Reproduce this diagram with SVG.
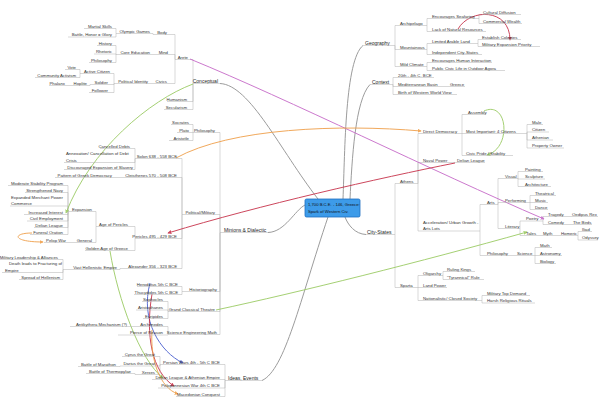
<svg xmlns="http://www.w3.org/2000/svg" width="600" height="400" viewBox="0 0 600 400">
<style>
.t{font-family:"Liberation Sans",Arial,sans-serif;font-size:4.3px;fill:#333}
.b{font-size:5px;fill:#222}
.e{text-anchor:end}
.u{stroke:#b0b0b0;stroke-width:.5;fill:none}
.c{stroke:#b0b0b0;stroke-width:.5;fill:none}
.m{stroke:#9c9c9c;stroke-width:1;fill:none}
.x{fill:none;stroke-width:1;opacity:.9}
.ct{font-family:"Liberation Sans",Arial,sans-serif;font-size:4.2px;fill:#111}
</style>
<defs>
<marker id="ap" viewBox="0 0 6 6" refX="5" refY="3" markerWidth="4" markerHeight="4" orient="auto"><path d="M0,0L6,3L0,6z" fill="#c76bc9"/></marker>
<marker id="ar" viewBox="0 0 6 6" refX="5" refY="3" markerWidth="4" markerHeight="4" orient="auto"><path d="M0,0L6,3L0,6z" fill="#c8344c"/></marker>
<marker id="ao" viewBox="0 0 6 6" refX="5" refY="3" markerWidth="4" markerHeight="4" orient="auto"><path d="M0,0L6,3L0,6z" fill="#f0a04b"/></marker>
<marker id="ag" viewBox="0 0 6 6" refX="5" refY="3" markerWidth="4" markerHeight="4" orient="auto"><path d="M0,0L6,3L0,6z" fill="#9ccc65"/></marker>
<marker id="ab" viewBox="0 0 6 6" refX="5" refY="3" markerWidth="4" markerHeight="4" orient="auto"><path d="M0,0L6,3L0,6z" fill="#4a5fd0"/></marker>
</defs>
<rect width="600" height="400" fill="#fff"/>

<g id="connectors">
<path class="m" d="M363,45.5C345,60 345,150 343,199"/>
<path class="m" d="M370,84.5C355,100 352,160 350,199"/>
<path class="m" d="M220,83.5C250,85 280,150 318,199"/>
<path class="m" d="M268,232.5C285,232 295,210 305,205"/>
<path class="m" d="M366,234.5C355,234 348,225 345,217"/>
<path class="m" d="M262,380.5C285,370 300,300 328,217"/>
<path class="c" d="M395,45.5V25.5H399M395,45.5V49.5H399M395,45.5V66.5H399"/>
<path class="c" d="M427,25.5V18.5H431M427,25.5V31.5H431"/>
<path class="c" d="M427,49.5V43.5H431M427,49.5V54.5H431"/>
<path class="c" d="M427,66.5V62.5H431M427,66.5V70.5H431"/>
<path class="c" d="M479,18.5V14.5H482M479,18.5V23.5H482"/>
<path class="c" d="M478,43.5V39.5H481M478,43.5V46.5H481"/>
<path class="c" d="M393,84.5V77.5H397M393,84.5V86.5H397M393,84.5V94.5H397M446,86.5H449"/>
<path class="c" d="M395,234.5V183.5H399M395,234.5V287.5H399"/>
<path class="c" d="M418,183.5V133.5H422M418,183.5V162.5H422M418,183.5V231H422M453,162.5H456"/>
<path class="c" d="M462,133.5V114.5H467M462,133.5H465M462,133.5V155.5H465"/>
<path class="c" d="M527,133.5V124.5H531M527,133.5V132H531M527,133.5V140H531M527,133.5V148H531"/>
<path class="c" d="M480,231V204.5H486M480,231V255.5H486"/>
<path class="c" d="M498,204.5V178.5H504M498,204.5V202.5H504M498,204.5V228.5H504"/>
<path class="c" d="M518,178.5V171.5H524M518,178.5V179H524M518,178.5V186.5H524"/>
<path class="c" d="M530,202.5V195.5H534M530,202.5H534M530,202.5V209.5H534"/>
<path class="c" d="M520,228.5V221H525M520,228.5V235.5H525"/>
<path class="c" d="M543,221V216.5H547M543,221V224.5H547M568,216.5H571M569,224.5H572M541,235.5H542M557,235.5H560"/>
<path class="c" d="M578,235.5V231.5H581M578,235.5V240H581"/>
<path class="c" d="M513,255.5H516M535,255.5V247.5H539M535,255.5H539M535,255.5V263.5H539"/>
<path class="c" d="M418,287.5V275.5H422M418,287.5H422M418,287.5V300.5H422"/>
<path class="c" d="M443,275.5V271.5H446M443,275.5V279.5H446"/>
<path class="c" d="M482,300.5V295.5H486M482,300.5V303H486"/>
<path class="c" d="M193,83.5V59.5H189M193,83.5V101.5H188M193,83.5V109.5H188"/>
<path class="c" d="M175,59.5V34.5H168M175,59.5V54.5H169M175,59.5V83.5H168"/>
<path class="c" d="M153,34.5V33.5H151M153,54.5H151M153,83.5H149"/>
<path class="c" d="M116,33.5V28.5H113M116,33.5V37H113"/>
<path class="c" d="M116,54.5V45.5H113M116,54.5V54H113M116,54.5V62.5H113"/>
<path class="c" d="M114,83.5V73.5H111M114,83.5V84.5H109M114,83.5V92.5H109"/>
<path class="c" d="M80,73.5V69.5H77M80,73.5V77.5H77M90,84.5V85.5H88M70,85.5H66"/>
<path class="c" d="M220,232.5V132.5H216M220,232.5V214.5H216M220,232.5V291.5H218M220,232.5V311.5H216M220,232.5V334.5H218"/>
<path class="c" d="M193,132.5V124.5H190M193,132.5H190M193,132.5V140.5H190"/>
<path class="c" d="M182,214.5V158.5H178M182,214.5V177.5H178M182,214.5V238.5H178M182,214.5V268.5H178"/>
<path class="c" d="M135,158.5V148.5H131M135,158.5V162.5H134M135,158.5V169.5H134M115,177.5H113"/>
<path class="c" d="M135,238.5V226.5H129M135,238.5V250.5H129"/>
<path class="c" d="M96,226.5V211.5H93M96,226.5V242.5H93M70,242.5H67"/>
<path class="c" d="M68,211.5V185.5H64M68,211.5V192.5H64M68,211.5V206H64M68,211.5V214.5H64M68,211.5V221H64M68,211.5V227.5H64M68,211.5V234.5H64"/>
<path class="c" d="M120,268.5V269.5H118M63,269.5V259.5H59M63,269.5V272.5H63M63,269.5V279.5H61"/>
<path class="c" d="M182,291.5V286.5H179M182,291.5V294.5H179"/>
<path class="c" d="M168,311.5V301.5H164M168,311.5V310H164M168,311.5V318.5H164"/>
<path class="c" d="M168,334.5V326.5H164M168,334.5V335H164M130,326.5H128"/>
<path class="c" d="M225,380.5V364.5H221M225,380.5V379.5H221M225,380.5V388H221M225,380.5V396.5H221"/>
<path class="c" d="M160,364.5V356.5H156M160,364.5V366H156M160,364.5V374.5H156M120,366V366.5H117M135,374.5V373.5H132"/>
<path class="x" stroke="#c76bc9" d="M190,59C290,100 430,170 544,219" marker-end="url(#ap)"/>
<path class="x" stroke="#c8344c" d="M455,163C380,178 260,205 168,233" marker-end="url(#ar)"/>
<path class="x" stroke="#f0a04b" d="M176,158C230,128 340,124 421,131" marker-end="url(#ao)"/>
<path class="x" stroke="#9ccc65" d="M193,84C150,100 90,150 66,213" marker-end="url(#ag)"/>
<path class="x" stroke="#9ccc65" d="M110,251C118,300 140,360 163,378" marker-end="url(#ag)"/>
<path class="x" stroke="#9ccc65" d="M484,111C508,100 512,148 487,155" marker-end="url(#ag)"/>
<path class="x" stroke="#c8344c" d="M458,29C470,8 510,8 510,40" marker-end="url(#ar)"/>
<path class="x" stroke="#f0a04b" d="M32,233C12,233 12,242 43,242" marker-end="url(#ao)"/>
<path class="x" stroke="#9ccc65" d="M216,310C300,292 420,262 527,232" marker-end="url(#ag)"/>
<path class="x" stroke="#4a5fd0" d="M150,283C140,320 160,352 183,363" marker-end="url(#ab)"/>
<path class="x" stroke="#c8344c" d="M152,294C145,335 152,372 174,386" marker-end="url(#ar)"/>
<path class="x" stroke="#f0a04b" d="M152,330C150,360 160,388 178,394" marker-end="url(#ao)"/>
</g>

<g id="n-center"><rect x="305" y="199" width="55" height="18" rx="1.5" fill="#3d9be9" stroke="#1f6fc0" stroke-width=".8"/><text class="ct" x="308" y="206">1,700 B.C.E. - 146, Greece:</text><text class="ct" x="308" y="212.5">Spark of Western Civ.</text></g>

<g id="n-geography"><text class="t b" x="365" y="44.5">Geography</text><path class="u" d="M363,45.5H395"/></g>
<g id="n-archipelago"><text class="t" x="400" y="24.5">Archipelago</text><path class="u" d="M399,25.5H427"/></g>
<g id="n-mountainous"><text class="t" x="400" y="48.5">Mountainous</text><path class="u" d="M399,49.5H427"/></g>
<g id="n-mild"><text class="t" x="400" y="65.5">Mild Climate</text><path class="u" d="M399,66.5H427"/></g>
<g id="n-seafaring"><text class="t" x="432" y="17.5">Encourages Seafaring</text><path class="u" d="M431,18.5H479"/></g>
<g id="n-lack"><text class="t" x="432" y="30.5">Lack of Natural Resources</text><path class="u" d="M431,31.5H486"/></g>
<g id="n-diffusion"><text class="t" x="483" y="13.5">Cultural Diffusion</text><path class="u" d="M482,14.5H521"/></g>
<g id="n-wealth"><text class="t" x="483" y="22.5">Commercial Wealth</text><path class="u" d="M482,23.5H522"/></g>
<g id="n-arable"><text class="t" x="432" y="42.5">Limited Arable Land</text><path class="u" d="M431,43.5H478"/></g>
<g id="n-independent"><text class="t" x="432" y="53.5">Independent City-States</text><path class="u" d="M431,54.5H482"/></g>
<g id="n-colonies"><text class="t" x="482" y="38.5">Establish Colonies</text><path class="u" d="M481,39.5H521"/></g>
<g id="n-milexp"><text class="t" x="482" y="45.5">Military Expansion Priority</text><path class="u" d="M481,46.5H540"/></g>
<g id="n-human"><text class="t" x="432" y="61.5">Encourages Human Interaction</text><path class="u" d="M431,62.5H492"/></g>
<g id="n-public"><text class="t" x="432" y="69.5">Public Civic Life in Outdoor Agora</text><path class="u" d="M431,70.5H505"/></g>

<g id="n-context"><text class="t b" x="372" y="83.5">Context</text><path class="u" d="M370,84.5H393"/></g>
<g id="n-century"><text class="t" x="398" y="76.5">20th - 4th C. BCE</text><path class="u" d="M397,77.5H434"/></g>
<g id="n-basin"><text class="t" x="398" y="85.5">Mediterranean Basin</text><path class="u" d="M397,86.5H446"/></g>
<g id="n-greece"><text class="t" x="450" y="85.5">Greece</text><path class="u" d="M449,86.5H465"/></g>
<g id="n-birth"><text class="t" x="398" y="93.5">Birth of Western World View</text><path class="u" d="M397,94.5H457"/></g>

<g id="n-citystates"><text class="t b" x="367" y="233.5">City-States</text><path class="u" d="M366,234.5H395"/></g>
<g id="n-athens"><text class="t" x="400" y="182.5">Athens</text><path class="u" d="M399,183.5H418"/></g>
<g id="n-sparta"><text class="t" x="400" y="286.5">Sparta</text><path class="u" d="M399,287.5H418"/></g>
<g id="n-democracy"><text class="t" x="423" y="132.5">Direct Democracy</text><path class="u" d="M422,133.5H462"/></g>
<g id="n-naval"><text class="t" x="423" y="161.5">Naval Power</text><path class="u" d="M422,162.5H453"/></g>
<g id="n-delian-a"><text class="t" x="457" y="161.5">Delian League</text><path class="u" d="M456,162.5H485"/></g>
<g id="n-accel"><text class="t" x="423" y="223.5">Acceleration/ Urban Growth -</text><text class="t" x="423" y="229.5">Arts Lots</text><path class="u" d="M422,231H480"/></g>
<g id="n-assembly"><text class="t" x="468" y="113.5">Assembly</text><path class="u" d="M467,114.5H486"/></g>
<g id="n-important"><text class="t" x="466" y="132.5">Most Important: 4 Citizens</text><path class="u" d="M465,133.5H527"/></g>
<g id="n-civic"><text class="t" x="466" y="154.5">Civic Pride / Stability</text><path class="u" d="M465,155.5H513"/></g>
<g id="n-male"><text class="t" x="532" y="123.5">Male</text><path class="u" d="M531,124.5H543"/></g>
<g id="n-citizen"><text class="t" x="532" y="131">Citizen</text><path class="u" d="M531,132H549"/></g>
<g id="n-athenian"><text class="t" x="532" y="139">Athenian</text><path class="u" d="M531,140H553"/></g>
<g id="n-owner"><text class="t" x="532" y="147">Property Owner</text><path class="u" d="M531,148H564"/></g>
<g id="n-arts"><text class="t" x="487" y="203.5">Arts</text><path class="u" d="M486,204.5H498"/></g>
<g id="n-philo-r"><text class="t" x="487" y="254.5">Philosophy</text><path class="u" d="M486,255.5H513"/></g>
<g id="n-visual"><text class="t" x="505" y="177.5">Visual</text><path class="u" d="M504,178.5H518"/></g>
<g id="n-performing"><text class="t" x="505" y="201.5">Performing</text><path class="u" d="M504,202.5H530"/></g>
<g id="n-literary"><text class="t" x="505" y="227.5">Literary</text><path class="u" d="M504,228.5H520"/></g>
<g id="n-painting"><text class="t" x="525" y="170.5">Painting</text><path class="u" d="M524,171.5H543"/></g>
<g id="n-sculpture"><text class="t" x="525" y="178">Sculpture</text><path class="u" d="M524,179H545"/></g>
<g id="n-architecture"><text class="t" x="525" y="185.5">Architecture</text><path class="u" d="M524,186.5H551"/></g>
<g id="n-theatrical"><text class="t" x="535" y="194.5">Theatrical</text><path class="u" d="M534,195.5H556"/></g>
<g id="n-music"><text class="t" x="535" y="201.5">Music</text><path class="u" d="M534,202.5H548"/></g>
<g id="n-dance"><text class="t" x="535" y="208.5">Dance</text><path class="u" d="M534,209.5H548"/></g>
<g id="n-poetry"><text class="t" x="526" y="220">Poetry</text><path class="u" d="M525,221H543"/></g>
<g id="n-tales"><text class="t" x="526" y="234.5">Tales</text><path class="u" d="M525,235.5H541"/></g>
<g id="n-tragedy"><text class="t" x="548" y="215.5">Tragedy</text><path class="u" d="M547,216.5H568"/></g>
<g id="n-comedy"><text class="t" x="548" y="223.5">Comedy</text><path class="u" d="M547,224.5H569"/></g>
<g id="n-oedipus"><text class="t" x="572" y="215.5">Oedipus Rex</text><path class="u" d="M571,216.5H598"/></g>
<g id="n-birds"><text class="t" x="573" y="223.5">The Birds</text><path class="u" d="M572,224.5H592"/></g>
<g id="n-myth"><text class="t" x="543" y="234.5">Myth</text><path class="u" d="M542,235.5H557"/></g>
<g id="n-homeric"><text class="t" x="561" y="234.5">Homeric</text><path class="u" d="M560,235.5H578"/></g>
<g id="n-iliad"><text class="t" x="582" y="230.5">Iliad</text><path class="u" d="M581,231.5H592"/></g>
<g id="n-odyssey"><text class="t" x="582" y="239">Odyssey</text><path class="u" d="M581,240H598"/></g>
<g id="n-science-r"><text class="t" x="517" y="254.5">Science</text><path class="u" d="M516,255.5H535"/></g>
<g id="n-math"><text class="t" x="540" y="246.5">Math</text><path class="u" d="M539,247.5H552"/></g>
<g id="n-astronomy"><text class="t" x="540" y="254.5">Astronomy</text><path class="u" d="M539,255.5H562"/></g>
<g id="n-biology"><text class="t" x="540" y="262.5">Biology</text><path class="u" d="M539,263.5H556"/></g>
<g id="n-oligarchy"><text class="t" x="423" y="274.5">Oligarchy</text><path class="u" d="M422,275.5H443"/></g>
<g id="n-land"><text class="t" x="423" y="286.5">Land Power</text><path class="u" d="M422,287.5H447"/></g>
<g id="n-closed"><text class="t" x="423" y="299.5">Nationalistic/ Closed Society</text><path class="u" d="M422,300.5H482"/></g>
<g id="n-kings"><text class="t" x="447" y="270.5">Ruling Kings</text><path class="u" d="M446,271.5H475"/></g>
<g id="n-tyrannical"><text class="t" x="447" y="278.5">"Tyrannical" Rule</text><path class="u" d="M446,279.5H484"/></g>
<g id="n-topdemand"><text class="t" x="487" y="294.5">Military Top Demand</text><path class="u" d="M486,295.5H530"/></g>
<g id="n-rituals"><text class="t" x="487" y="302">Harsh Religious Rituals</text><path class="u" d="M486,303H535"/></g>

<g id="n-conceptual"><text class="t b e" x="218" y="82.5">Conceptual</text><path class="u" d="M193,83.5H220"/></g>
<g id="n-arete"><text class="t e" x="188" y="58.5">Arete</text><path class="u" d="M175,59.5H189"/></g>
<g id="n-humanism"><text class="t e" x="187" y="100.5">Humanism</text><path class="u" d="M167,101.5H188"/></g>
<g id="n-secularism"><text class="t e" x="187" y="108.5">Secularism</text><path class="u" d="M164,109.5H188"/></g>
<g id="n-body"><text class="t e" x="167" y="33.5">Body</text><path class="u" d="M153,34.5H168"/></g>
<g id="n-mind"><text class="t e" x="168" y="53.5">Mind</text><path class="u" d="M153,54.5H169"/></g>
<g id="n-civics"><text class="t e" x="167" y="82.5">Civics</text><path class="u" d="M153,83.5H168"/></g>
<g id="n-olympic"><text class="t e" x="150" y="32.5">Olympic Games</text><path class="u" d="M116,33.5H151"/></g>
<g id="n-martial"><text class="t e" x="112" y="27.5">Martial Skills</text><path class="u" d="M84,28.5H113"/></g>
<g id="n-battle"><text class="t e" x="112" y="36">Battle, Honor = Glory</text><path class="u" d="M68,37H113"/></g>
<g id="n-core"><text class="t e" x="150" y="53.5">Core Education</text><path class="u" d="M116,54.5H151"/></g>
<g id="n-history"><text class="t e" x="112" y="44.5">History</text><path class="u" d="M97,45.5H113"/></g>
<g id="n-rhetoric"><text class="t e" x="112" y="53">Rhetoric</text><path class="u" d="M94,54H113"/></g>
<g id="n-philo-l1"><text class="t e" x="112" y="61.5">Philosophy</text><path class="u" d="M89,62.5H113"/></g>
<g id="n-political"><text class="t e" x="148" y="82.5">Political Identity</text><path class="u" d="M114,83.5H149"/></g>
<g id="n-active"><text class="t e" x="110" y="72.5">Active Citizen</text><path class="u" d="M80,73.5H111"/></g>
<g id="n-soldier"><text class="t e" x="108" y="83.5">Soldier</text><path class="u" d="M90,84.5H109"/></g>
<g id="n-follower"><text class="t e" x="108" y="91.5">Follower</text><path class="u" d="M89,92.5H109"/></g>
<g id="n-vote"><text class="t e" x="76" y="68.5">Vote</text><path class="u" d="M65,69.5H77"/></g>
<g id="n-activism"><text class="t e" x="76" y="76.5">Community Activism</text><path class="u" d="M35,77.5H77"/></g>
<g id="n-hoplite"><text class="t e" x="87" y="84.5">Hoplite</text><path class="u" d="M70,85.5H88"/></g>
<g id="n-phalanx"><text class="t e" x="65" y="84.5">Phalanx</text><path class="u" d="M49,85.5H66"/></g>

<g id="n-minions"><text class="t b" x="224" y="231.5">Minions &amp; Dialectic</text><path class="u" d="M220,232.5H268"/></g>
<g id="n-philo-l2"><text class="t e" x="215" y="131.5">Philosophy</text><path class="u" d="M193,132.5H216"/></g>
<g id="n-socrates"><text class="t e" x="189" y="123.5">Socrates</text><path class="u" d="M171,124.5H190"/></g>
<g id="n-plato"><text class="t e" x="189" y="131.5">Plato</text><path class="u" d="M177,132.5H190"/></g>
<g id="n-aristotle"><text class="t e" x="189" y="139.5">Aristotle</text><path class="u" d="M169,140.5H190"/></g>
<g id="n-polmil"><text class="t e" x="215" y="213.5">Political/Military</text><path class="u" d="M182,214.5H216"/></g>
<g id="n-solon"><text class="t e" x="177" y="157.5">Solon 638 - 558 BCE</text><path class="u" d="M135,158.5H178"/></g>
<g id="n-cleisthenes"><text class="t e" x="177" y="176.5">Cleisthenes 570 - 508 BCE</text><path class="u" d="M115,177.5H178"/></g>
<g id="n-pericles"><text class="t e" x="177" y="237.5">Pericles 495 - 429 BCE</text><path class="u" d="M135,238.5H178"/></g>
<g id="n-alexander"><text class="t e" x="177" y="267.5">Alexander 356 - 323 BCE</text><path class="u" d="M120,268.5H178"/></g>
<g id="n-debts"><text class="t e" x="130" y="147.5">Cancelled Debts</text><path class="u" d="M100,148.5H131"/></g>
<g id="n-annex"><text class="t" x="66" y="155">Annexation/ Cancellation of Debt</text><text class="t" x="66" y="161.5">Crisis</text><path class="u" d="M64,162.5H134"/></g>
<g id="n-slavery"><text class="t e" x="133" y="168.5">Discouraged Expansion of Slavery</text><path class="u" d="M64,169.5H134"/></g>
<g id="n-pattern"><text class="t e" x="112" y="176.5">Pattern of Greek Democracy</text><path class="u" d="M55,177.5H113"/></g>
<g id="n-ageper"><text class="t e" x="128" y="225.5">Age of Pericles</text><path class="u" d="M96,226.5H129"/></g>
<g id="n-golden"><text class="t e" x="128" y="249.5">Golden Age of Greece</text><path class="u" d="M85,250.5H129"/></g>
<g id="n-expansion"><text class="t e" x="92" y="210.5">Expansion</text><path class="u" d="M68,211.5H93"/></g>
<g id="n-general"><text class="t e" x="92" y="241.5">General</text><path class="u" d="M70,242.5H93"/></g>
<g id="n-pelop"><text class="t e" x="66" y="241.5">Pelop War</text><path class="u" d="M44,242.5H67"/></g>
<g id="n-moderate"><text class="t e" x="63" y="184.5">Moderate Stability Program</text><path class="u" d="M8,185.5H64"/></g>
<g id="n-navy"><text class="t e" x="63" y="191.5">Strengthened Navy</text><path class="u" d="M25,192.5H64"/></g>
<g id="n-merchant"><text class="t" x="11" y="198.5">Expanded Merchant Power</text><text class="t" x="11" y="205">Commerce</text><path class="u" d="M10,206H64"/></g>
<g id="n-interest"><text class="t e" x="63" y="213.5">Increased Interest</text><path class="u" d="M24,214.5H64"/></g>
<g id="n-employment"><text class="t e" x="63" y="220">Civil Employment</text><path class="u" d="M27,221H64"/></g>
<g id="n-delian-l"><text class="t e" x="63" y="226.5">Delian League</text><path class="u" d="M34,227.5H64"/></g>
<g id="n-funeral"><text class="t e" x="63" y="233.5">Funeral Oration</text><path class="u" d="M30,234.5H64"/></g>
<g id="n-hellenistic"><text class="t e" x="117" y="268.5">Vast Hellenistic Empire</text><path class="u" d="M63,269.5H118"/></g>
<g id="n-leadership"><text class="t e" x="58" y="258.5">Military Leadership &amp; Alliances</text><path class="u" d="M0,259.5H59"/></g>
<g id="n-death"><text class="t e" x="62" y="265">Death leads to Fracturing of</text><text class="t" x="5" y="271.5">Empire</text><path class="u" d="M2,272.5H63"/></g>
<g id="n-spread"><text class="t e" x="60" y="278.5">Spread of Hellenism</text><path class="u" d="M19,279.5H61"/></g>
<g id="n-historiography"><text class="t e" x="217" y="290.5">Historiography</text><path class="u" d="M182,291.5H218"/></g>
<g id="n-herodotus"><text class="t e" x="178" y="285.5">Herodotus 5th C BCE</text><path class="u" d="M137,286.5H179"/></g>
<g id="n-thucydides"><text class="t e" x="178" y="293.5">Thucydides 5th C BCE</text><path class="u" d="M134,294.5H179"/></g>
<g id="n-theatre"><text class="t e" x="215" y="310.5">Grand Classical Theatre</text><path class="u" d="M168,311.5H216"/></g>
<g id="n-sophocles"><text class="t e" x="163" y="300.5">Sophocles</text><path class="u" d="M142,301.5H164"/></g>
<g id="n-aristophanes"><text class="t e" x="163" y="309">Aristophanes</text><path class="u" d="M136,310H164"/></g>
<g id="n-euripides"><text class="t e" x="163" y="317.5">Euripides</text><path class="u" d="M143,318.5H164"/></g>
<g id="n-sem"><text class="t e" x="217" y="333.5">Science Engineering Math</text><path class="u" d="M168,334.5H218"/></g>
<g id="n-archimedes"><text class="t e" x="163" y="325.5">Archimedes</text><path class="u" d="M130,326.5H164"/></g>
<g id="n-antikythera"><text class="t e" x="127" y="325.5">Antikythera Mechanism (?)</text><path class="u" d="M70,326.5H128"/></g>
<g id="n-pierce"><text class="t e" x="163" y="334">Pierce of Reason</text><path class="u" d="M118,335H164"/></g>

<g id="n-ideas"><text class="t b" x="228" y="379.5">Ideas, Events</text><path class="u" d="M225,380.5H262"/></g>
<g id="n-persian"><text class="t e" x="220" y="363.5">Persian Wars 4th - 5th C BCE</text><path class="u" d="M160,364.5H221"/></g>
<g id="n-delian-e"><text class="t e" x="220" y="378.5">Delian League &amp; Athenian Empire</text><path class="u" d="M152,379.5H221"/></g>
<g id="n-pelopwar"><text class="t e" x="220" y="387">Peloponnesian War 4th C BCE</text><path class="u" d="M158,388H221"/></g>
<g id="n-macedonian"><text class="t e" x="220" y="395.5">Macedonian Conquest</text><path class="u" d="M176,396.5H221"/></g>
<g id="n-cyrus"><text class="t e" x="155" y="355.5">Cyrus the Great</text><path class="u" d="M122,356.5H156"/></g>
<g id="n-darius"><text class="t e" x="155" y="365">Darius the Great</text><path class="u" d="M120,366H156"/></g>
<g id="n-xerxes"><text class="t e" x="155" y="373.5">Xerxes</text><path class="u" d="M135,374.5H156"/></g>
<g id="n-marathon"><text class="t e" x="116" y="365.5">Battle of Marathon</text><path class="u" d="M78,366.5H117"/></g>
<g id="n-thermopylae"><text class="t e" x="131" y="372.5">Battle of Thermopylae</text><path class="u" d="M86,373.5H132"/></g>
</svg>
